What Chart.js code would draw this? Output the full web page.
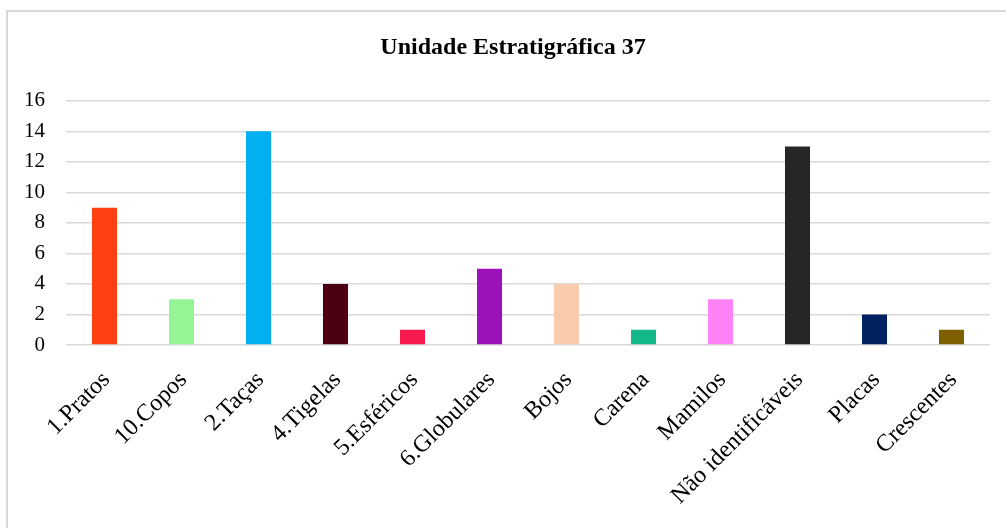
<!DOCTYPE html>
<html lang="pt">
<head>
  <meta charset="UTF-8" />
  <title>Unidade Estratigráfica 37</title>
  <script src="https://cdn.jsdelivr.net/npm/chart.js"></script>
  <style>
    html, body {
      margin: 0;
      padding: 0;
      background: #fff;
      overflow: hidden;
    }
    .moldura {
      position: absolute;
      left: 6px;
      top: 10px;
      width: 1100px;
      height: 600px;
      border: 2px solid #d9d9d9;
    }
    /* a caixa passa da janela para o título ficar centrado como no original */
    .caixa {
      position: absolute;
      left: 0;
      top: 0;
      width: 1026px;
      height: 528px;
    }
  </style>
</head>
<body>
  <div class="moldura"></div>
  <div class="caixa"><canvas id="grafico"></canvas></div>

  <script>
    const categorias = ['1.Pratos', '10.Copos', '2.Taças', '4.Tigelas', '5.Esféricos', '6.Globulares',
      'Bojos', 'Carena', 'Mamilos', 'Não identificáveis', 'Placas', 'Crescentes'];
    const valores = [9, 3, 14, 4, 1, 5, 4, 1, 3, 13, 2, 1];
    const cores = ['#ff4112', '#93f593', '#00b0f0', '#4a0010', '#f81a4e', '#9c12b8',
      '#f8cbad', '#14b88a', '#ff83f7', '#262626', '#002060', '#7f6000'];

    const fonte = 'Liberation Serif, "Times New Roman", serif';

    new Chart(document.getElementById('grafico'), {
      type: 'bar',
      data: {
        labels: categorias,
        datasets: [{
          data: valores,
          backgroundColor: cores,
          categoryPercentage: 1,
          barPercentage: 0.325
        }]
      },
      options: {
        responsive: true,
        maintainAspectRatio: false,
        animation: false,
        layout: { padding: 0 },
        plugins: {
          legend: { display: false },
          tooltip: { enabled: false },
          title: {
            display: true,
            text: 'Unidade Estratigráfica 37',
            color: '#000',
            font: { family: fonte, size: 24, weight: 'bold' },
            padding: { top: 33, bottom: 39 }
          }
        },
        scales: {
          x: {
            grid: { display: false },
            border: { display: false },
            ticks: {
              color: '#000',
              font: { family: fonte, size: 24 },
              maxRotation: 45,
              minRotation: 45,
              padding: 13,
              labelOffset: 2
            },
            afterFit: (s) => { s.height = 183; }
          },
          y: {
            min: 0,
            max: 16,
            ticks: {
              stepSize: 2,
              color: '#000',
              font: { family: fonte, size: 21 },
              padding: 21
            },
            grid: { color: '#d9d9d9', lineWidth: 1.5, drawTicks: false },
            border: { display: false },
            afterFit: (s) => { s.width = 66; }
          },
          // eixo vazio à direita, só para reservar espaço
          margem: {
            position: 'right',
            grid: { display: false },
            border: { display: false },
            ticks: { display: false },
            afterFit: (s) => { s.width = 36; }
          }
        }
      }
    });
  </script>
</body>
</html>
